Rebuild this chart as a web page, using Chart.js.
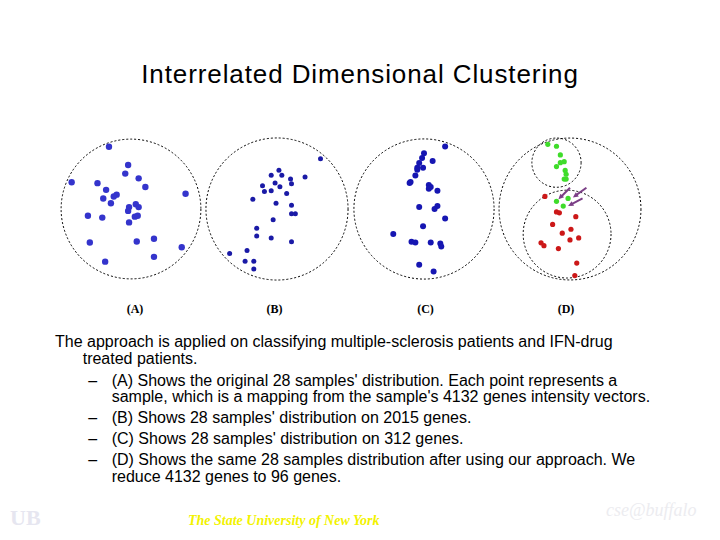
<!DOCTYPE html>
<html>
<head>
<meta charset="utf-8">
<script src="https://cdn.jsdelivr.net/npm/chart.js@4.4.1/dist/chart.umd.min.js"></script>
<style>
  html, body { margin:0; padding:0; background:#fff; }
  body { width:720px; height:540px; position:relative; overflow:hidden; font-family:"Liberation Sans", Arial, sans-serif; }
  .abs { position:absolute; white-space:nowrap; }
  canvas { position:absolute; }
  #title { left:0; width:720px; text-align:center; top:61.3px; font-size:26px; line-height:26px; letter-spacing:0.9px; color:#000; }
  .lbl { font-family:"Liberation Serif", "Times New Roman", serif; font-weight:bold; font-size:12px; line-height:12px; width:40px; text-align:center; color:#000; }
  .body { font-size:16px; line-height:16.5px; color:#000; }
  #footer { font-family:"Liberation Serif", "Times New Roman", serif; font-style:italic; font-weight:bold; font-size:14px; line-height:14px; color:#f2f200; left:188px; top:514px; }
  #cse { font-family:"Liberation Serif", serif; font-style:italic; font-size:18px; color:#ececf0; left:606px; top:500px; }
  #ub { font-family:"Liberation Serif", serif; font-weight:bold; font-size:22px; color:#e6e6f0; left:10px; top:505px; }
</style>
</head>
<body>
<div id="title" class="abs">Interrelated Dimensional Clustering</div>

<canvas id="cA" width="150" height="150" style="left:56px; top:133.5px;"></canvas>
<canvas id="cB" width="150" height="150" style="left:202px; top:134px;"></canvas>
<canvas id="cC" width="150" height="150" style="left:349px; top:134px;"></canvas>
<canvas id="cD" width="150" height="150" style="left:495px; top:134px;"></canvas>

<div id="labels"></div>
<div id="text"></div>

<div id="ub" class="abs">UB</div>
<div id="footer" class="abs">The State University of New York</div>
<div id="cse" class="abs">cse@buffalo</div>

<script>
// ---- Data (local coordinates: circle centre = 0,0; y up) ----
const panelLabels = ["(A)", "(B)", "(C)", "(D)"];

const pointsA = [[-23,65],[-3,46],[-6,37],[8,32],[-62,28],[-35,27],[15,23],[-26,20],[57,16],[-15,15],
  [-18,13],[-29,11],[-21,6],[5,5],[8,2],[-2,2],[-3,-2],[-45,-7],[-30,-9],[4,-8],[7,-7],[-2,-14],
  [24,-31],[6,-34],[-43,-35],[53,-40],[24,-50],[-27,-55]];

const pointsB = [[45,52],[2,40],[-6,35],[5,35],[29,33],[14,31],[-2,27],[15,26],[-15,24],[3,23],
  [-6,19],[-13,18],[10,16],[-25,10],[-1,6],[15,4],[15,-5],[19,-5],[-4,-11],[-21,-20],[-21,-28],
  [-6,-30],[15,-34],[-31,-43],[-49,-46],[-33,-54],[-24,-54],[-24,-62]];

const pointsC = [[22,65],[0,58],[-2,53],[9,50],[-5,48],[-1,43],[-7,43],[-7,41],[-9,35],[-14,28],
  [-15,27],[5,25],[7,23],[5,21],[14,19],[-5,2],[14,3],[11,0],[22,-10],[-1,-18],[-32,-26],
  [-13,-34],[-9,-35],[7,-35],[17,-36],[18,-39],[-5,-58],[10,-65]];

const pointsDGreen = [[-23,67],[-14,65],[-10,56],[-6,49],[-10,48],[-14,44],[-5,40],[-4,36],
  [-6,31],[-4,31],[-2,11],[-14,8],[-7,3]];
const pointsDRed = [[-26,13],[-14,-3],[-11,-4],[6,-8],[-18,-16],[1,-21],[-8,-25],[9,-30],
  [0,-32],[-30,-35],[-27,-38],[-12,-41],[7,-56],[5,-69]];

// circles: [cx, cy, r]
const circlesA = [[0,0,73]];
const circlesB = [[0,0,73.5]];
const circlesC = [[0,0,73]];
const circlesD = [[0,0,73.5],[-14,48,25.5],[-3,-26,45.5]];

// arrows in panel D: [x1, y1, x2, y2] (tail -> head)
const arrowsD = [[0,22,-12,10],[17,22,3,12],[13,11,-2,3]];

// ---- text ----
const bodyLines = [
  {x:55, base:348, t:"The approach is applied on classifying multiple-sclerosis patients and IFN-drug"},
  {x:82.7, base:365, t:"treated patients."},
  {x:111.7, base:386.7, t:"(A) Shows the original 28 samples' distribution. Each point represents a", dash:true},
  {x:111.7, base:403, t:"sample, which is a mapping from the sample's 4132 genes intensity vectors."},
  {x:111.7, base:424, t:"(B) Shows 28 samples' distribution on 2015 genes.", dash:true},
  {x:111.7, base:445, t:"(C) Shows 28 samples' distribution on 312 genes.", dash:true},
  {x:111.7, base:466, t:"(D) Shows the same 28 samples distribution after using our approach. We", dash:true},
  {x:111.7, base:482.7, t:"reduce 4132 genes to 96 genes."}
];
const labelX = [135, 274.5, 425.5, 566];

const textDiv = document.getElementById('text');
bodyLines.forEach(l => {
  const d = document.createElement('div');
  d.className = 'abs body';
  d.style.left = l.x + 'px';
  d.style.top = (l.base - 13.8) + 'px';
  d.textContent = l.t;
  textDiv.appendChild(d);
  if (l.dash) {
    const s = document.createElement('div');
    s.className = 'abs body';
    s.style.left = '88.3px';
    s.style.top = (l.base - 13.8) + 'px';
    s.textContent = '\u2013';
    textDiv.appendChild(s);
  }
});
const labDiv = document.getElementById('labels');
panelLabels.forEach((t, i) => {
  const d = document.createElement('div');
  d.className = 'abs lbl';
  d.style.left = (labelX[i] - 20) + 'px';
  d.style.top = '303px';
  d.textContent = t;
  labDiv.appendChild(d);
});

// ---- charts ----
const shapes = {
  id: 'shapes',
  beforeDatasetsDraw(chart, args, opts) {
    const {ctx, scales:{x, y}} = chart;
    ctx.save();
    ctx.strokeStyle = '#000';
    ctx.lineWidth = 1;
    ctx.setLineDash([2, 2]);
    (opts.circles || []).forEach(c => {
      const px = x.getPixelForValue(c[0]);
      const py = y.getPixelForValue(c[1]);
      const r = x.getPixelForValue(c[0] + c[2]) - px;
      ctx.beginPath();
      ctx.arc(px, py, r, 0, Math.PI * 2);
      ctx.stroke();
    });
    ctx.restore();
  },
  afterDatasetsDraw(chart, args, opts) {
    const {ctx, scales:{x, y}} = chart;
    ctx.save();
    ctx.strokeStyle = '#7b3f86';
    ctx.fillStyle = '#7b3f86';
    ctx.lineWidth = 2;
    (opts.arrows || []).forEach(a => {
      const x1 = x.getPixelForValue(a[0]), y1 = y.getPixelForValue(a[1]);
      const x2 = x.getPixelForValue(a[2]), y2 = y.getPixelForValue(a[3]);
      const ang = Math.atan2(y2 - y1, x2 - x1);
      const hl = 6;
      ctx.beginPath();
      ctx.moveTo(x1, y1);
      ctx.lineTo(x2 - Math.cos(ang) * 3, y2 - Math.sin(ang) * 3);
      ctx.stroke();
      ctx.beginPath();
      ctx.moveTo(x2, y2);
      ctx.lineTo(x2 - hl * Math.cos(ang - 0.45), y2 - hl * Math.sin(ang - 0.45));
      ctx.lineTo(x2 - hl * Math.cos(ang + 0.45), y2 - hl * Math.sin(ang + 0.45));
      ctx.closePath();
      ctx.fill();
    });
    ctx.restore();
  }
};

function toXY(arr) { return arr.map(p => ({x: p[0], y: p[1]})); }

function makeChart(id, sets, circles, arrows) {
  return new Chart(document.getElementById(id), {
    type: 'scatter',
    data: {
      datasets: sets.map(s => ({
        data: toXY(s.pts),
        backgroundColor: s.color,
        borderColor: s.color,
        pointRadius: s.r,
        pointBorderWidth: 0,
        pointHoverRadius: s.r,
        clip: false
      }))
    },
    options: {
      responsive: false,
      devicePixelRatio: 1,
      animation: false,
      events: [],
      layout: { padding: 0 },
      plugins: {
        legend: { display: false },
        tooltip: { enabled: false },
        shapes: { circles: circles, arrows: arrows || [] }
      },
      scales: {
        x: { type: 'linear', min: -75, max: 75, display: false },
        y: { type: 'linear', min: -75, max: 75, display: false }
      }
    },
    plugins: [shapes]
  });
}

makeChart('cA', [{pts: pointsA, color: '#3434cc', r: 3.2}], circlesA);
makeChart('cB', [{pts: pointsB, color: '#1a1aa6', r: 2.5}], circlesB);
makeChart('cC', [{pts: pointsC, color: '#1616b2', r: 3}], circlesC);
makeChart('cD', [
  {pts: pointsDGreen, color: '#3fdc2a', r: 2.6},
  {pts: pointsDRed, color: '#cc1818', r: 2.6}
], circlesD, arrowsD);
</script>
</body>
</html>
